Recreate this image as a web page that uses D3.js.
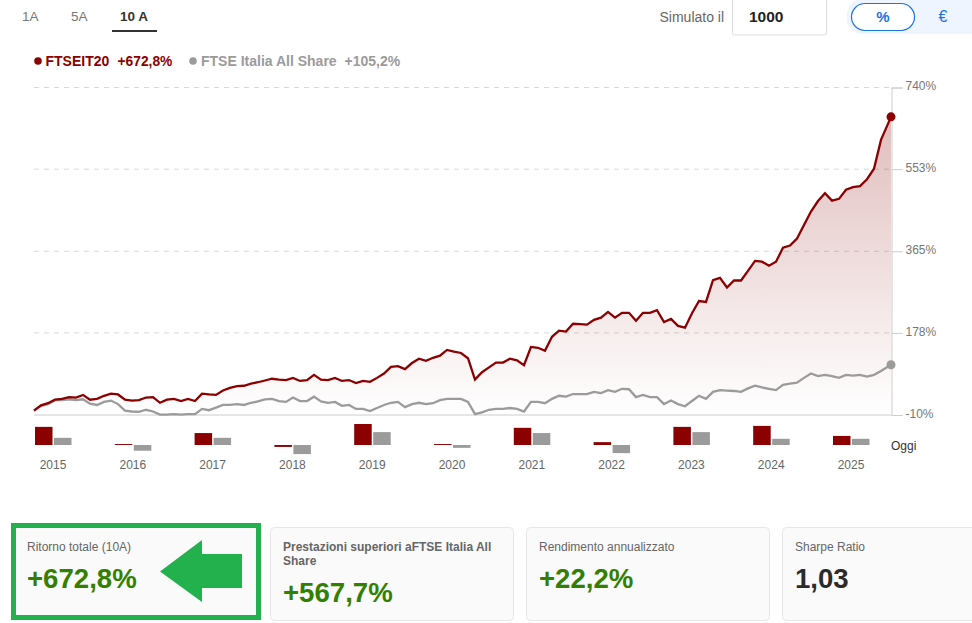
<!DOCTYPE html>
<html>
<head>
<meta charset="utf-8">
<script src="https://cdn.jsdelivr.net/npm/d3@7"></script>
<style>
  body { margin: 0; background: #fff; }
  svg { display: block; font-family: "Liberation Sans", Arial, sans-serif; }
</style>
</head>
<body>
<div id="chart"></div>
<script>
// rendimento cumulato mensile (%)
const ftseit20 = [0,12,17,25,27,31,30,36,25,27,34,39,37,25,23,24,30,31,18,25,27,22,27,22,39,37,36,46,52,56,57,62,65,
  69,73,71,70,75,68,70,82,71,70,75,68,70,63,68,66,75,85,100,102,95,109,119,114,121,126,139,135,132,120,71,88,99,
  110,110,119,115,104,146,144,137,169,183,181,199,198,197,208,213,226,213,224,224,206,224,224,230,203,210,194,190,223,251,249,299,304,
  282,298,298,320,343,341,332,341,373,378,394,425,456,480,498,481,485,506,512,514,530,554,620,672.8];
const ftseItalia = [0,11,15,24,24,26,24,26,16,13,20,23,15,0,-2,-3,2,-2,-9,-9,-8,-9,-8,-8,4,1,7,13,13,15,13,18,21,
  26,27,22,20,30,22,22,32,21,18,20,11,13,4,4,-1,6,13,18,20,8,15,18,15,17,24,27,27,27,20,-8,-4,2,
  4,4,6,4,-2,20,20,17,27,34,32,38,38,38,43,40,47,43,50,49,31,36,31,31,15,23,15,10,22,34,27,43,47,
  46,45,43,51,57,53,50,47,59,62,64,75,85,79,82,79,75,82,80,82,78,82,91,105.2];
const lastStep = 122.43; // l'ultimo punto ("Oggi") cade dopo l'ultimo mese

const yTicks = [740, 553, 365, 178, -10];
const years = ['2015','2016','2017','2018','2019','2020','2021','2022','2023','2024','2025'];
const yearFtseit20 = [38,2,25,-4,44,2,36,6,38,40,19];
const yearFtseItalia = [15,-12,15,-19,27,-6,25,-17,27,13,13];

const tabs = ['1A', '5A', '10 A'];
const cardTitles = [['Ritorno totale (10A)'], ['Prestazioni superiori aFTSE Italia All', 'Share'], ['Rendimento annualizzato'], ['Sharpe Ratio']];
const cardValues = ['+672,8%', '+567,7%', '+22,2%', '1,03'];

const red = '#8b0000', grey = '#9b9b9b', green = '#338000', arrowGreen = '#22b14c';

const svg = d3.select('#chart').append('svg').attr('width', 972).attr('height', 623);

const x = d3.scaleLinear().domain([0, lastStep]).range([34, 891]);
const y = d3.scaleLinear().domain([-10, 740]).range([415, 87.5]);
const xPos = (d, i, arr) => x(i === arr.length - 1 ? lastStep : i);

const grad = svg.append('defs').append('linearGradient').attr('id', 'areaFill')
  .attr('gradientUnits', 'userSpaceOnUse').attr('x1', 0).attr('x2', 0).attr('y1', y(672.8)).attr('y2', y(-10));
grad.append('stop').attr('offset', 0).attr('stop-color', red).attr('stop-opacity', 0.26);
grad.append('stop').attr('offset', 1).attr('stop-color', red).attr('stop-opacity', 0);

// griglia
svg.append('g').selectAll('line').data(yTicks.filter(d => d > -10)).join('line')
  .attr('x1', 34).attr('x2', 891).attr('y1', d => y(d)).attr('y2', d => y(d))
  .attr('stroke', '#d8d8d8').attr('stroke-dasharray', '5 5');
svg.append('line').attr('x1', 34).attr('x2', 891).attr('y1', y(-10)).attr('y2', y(-10)).attr('stroke', '#ccc');

// area + linee
const xs = ftseit20.map((d, i, arr) => xPos(d, i, arr));
svg.append('path').datum(ftseit20)
  .attr('d', d3.area().x((d, i) => xs[i]).y0(y(-10)).y1(d => y(d)))
  .attr('fill', 'url(#areaFill)');

const line = d3.line().x((d, i) => xs[i]).y(d => y(d));
svg.append('path').datum(ftseItalia).attr('d', line).attr('fill', 'none').attr('stroke', grey).attr('stroke-width', 2.3);
svg.append('path').datum(ftseit20).attr('d', line).attr('fill', 'none').attr('stroke', red).attr('stroke-width', 2.3);

// asse destro
const yAxis = svg.append('g').attr('transform', 'translate(891.5,0)')
  .call(d3.axisRight(y).tickValues(yTicks).tickSize(11).tickPadding(3).tickFormat(d => d + '%'));
yAxis.select('.domain').attr('stroke', '#ccc');
yAxis.selectAll('line').attr('stroke', '#ccc');
yAxis.selectAll('text').attr('font-size', 12).attr('font-family', 'inherit').attr('fill', '#777').attr('dy', '0.2em');

svg.append('circle').attr('cx', x(lastStep)).attr('cy', y(672.8)).attr('r', 4.5).attr('fill', red);
svg.append('circle').attr('cx', x(lastStep)).attr('cy', y(105.2)).attr('r', 4.5).attr('fill', grey);

// barre annuali
const x0 = d3.scaleBand().domain(years).range([13.1, 890.9]);
const yBar = d3.scaleLinear().domain([0, 44]).range([445, 424]);
const barGroups = svg.append('g').selectAll('g').data(years).join('g')
  .attr('transform', d => `translate(${x0(d) + x0.bandwidth() / 2},0)`);
barGroups.append('rect').attr('x', -18).attr('width', 17.5)
  .attr('y', (d, i) => Math.min(yBar(yearFtseit20[i]), yBar(0)))
  .attr('height', (d, i) => Math.abs(yBar(yearFtseit20[i]) - yBar(0))).attr('fill', red);
barGroups.append('rect').attr('x', 1).attr('width', 17.5)
  .attr('y', (d, i) => Math.min(yBar(yearFtseItalia[i]), yBar(0)))
  .attr('height', (d, i) => Math.abs(yBar(yearFtseItalia[i]) - yBar(0))).attr('fill', grey);
barGroups.append('text').text(d => d).attr('y', 469).attr('text-anchor', 'middle')
  .attr('font-size', 12).attr('fill', '#666');
svg.append('text').text('Oggi').attr('x', 891).attr('y', 450).attr('font-size', 12).attr('fill', '#333');

// tab
const tabX = [22, 71, 120];
svg.append('g').selectAll('text').data(tabs).join('text').text(d => d)
  .attr('x', (d, i) => tabX[i]).attr('y', 21).attr('font-size', 13.5)
  .attr('font-weight', (d, i) => i === 2 ? 'bold' : 'normal')
  .attr('fill', (d, i) => i === 2 ? '#333' : '#777');
svg.append('rect').attr('x', 112).attr('y', 30).attr('width', 45).attr('height', 2).attr('fill', '#333');

// legenda
const legend = svg.append('g').attr('font-size', 14).attr('font-weight', 'bold');
legend.append('circle').attr('cx', 38).attr('cy', 61).attr('r', 3.8).attr('fill', red);
legend.append('text').text('FTSEIT20').attr('x', 45.5).attr('y', 66).attr('fill', red);
legend.append('text').text('+672,8%').attr('x', 117.5).attr('y', 66).attr('fill', red).attr('font-size', 13.8);
legend.append('circle').attr('cx', 193).attr('cy', 61).attr('r', 3.8).attr('fill', grey);
legend.append('text').text('FTSE Italia All Share').attr('x', 201).attr('y', 66).attr('fill', grey);
legend.append('text').text('+105,2%').attr('x', 344.5).attr('y', 66).attr('fill', grey);

// simulatore
svg.append('text').text('Simulato il').attr('x', 659.5).attr('y', 22).attr('font-size', 14).attr('fill', '#666');
svg.append('rect').attr('x', 732.5).attr('y', -2).attr('width', 94).attr('height', 37).attr('rx', 2)
  .attr('fill', '#fff').attr('stroke', '#ddd');
svg.append('text').text('1000').attr('x', 749).attr('y', 21.5).attr('font-size', 15.5).attr('font-weight', 'bold').attr('fill', '#222');
svg.append('rect').attr('x', 847).attr('y', -1).attr('width', 140).attr('height', 35).attr('rx', 15).attr('fill', '#eef5fe');
svg.append('rect').attr('x', 851.5).attr('y', 3.5).attr('width', 63).attr('height', 27).attr('rx', 13.5)
  .attr('fill', '#fff').attr('stroke', '#1a73e8').attr('stroke-width', 1.2);
svg.append('text').text('%').attr('x', 883).attr('y', 22).attr('text-anchor', 'middle').attr('font-size', 15).attr('font-weight', 'bold').attr('fill', '#1a73e8');
svg.append('text').text('€').attr('x', 943).attr('y', 22).attr('text-anchor', 'middle').attr('font-size', 16).attr('fill', '#1a73e8');

// schede
const cardX = [11, 270.5, 526.5, 782.5], cardW = [250, 243, 243, 243];
cardTitles.forEach((lines, c) => {
  const g = svg.append('g');
  if (c === 0) {
    g.append('rect').attr('x', 13.5).attr('y', 525.5).attr('width', 245).attr('height', 92)
      .attr('fill', '#fafafa').attr('stroke', arrowGreen).attr('stroke-width', 5);
  } else {
    g.append('rect').attr('x', cardX[c]).attr('y', 527.5).attr('width', cardW[c]).attr('height', 93).attr('rx', 4)
      .attr('fill', '#fafafa').attr('stroke', '#e8e8e8');
  }
  const tx = c === 0 ? 27 : cardX[c] + 12.5;
  lines.forEach((l, i) => g.append('text').text(l).attr('x', tx).attr('y', 551 + i * 14)
    .attr('font-size', 12).attr('fill', '#666').attr('font-weight', c === 1 ? 'bold' : 'normal'));
  g.append('text').text(cardValues[c]).attr('x', tx).attr('y', c === 1 ? 602 : 588)
    .attr('font-size', 27.6).attr('font-weight', 'bold').attr('fill', c === 3 ? '#2b2b2b' : green);
});

// freccia
svg.append('path').attr('d', d3.line()([[160, 571.5], [202, 540], [202, 554], [242, 554], [242, 588], [202, 588], [202, 602]]) + 'Z')
  .attr('fill', arrowGreen);
</script>
</body>
</html>
